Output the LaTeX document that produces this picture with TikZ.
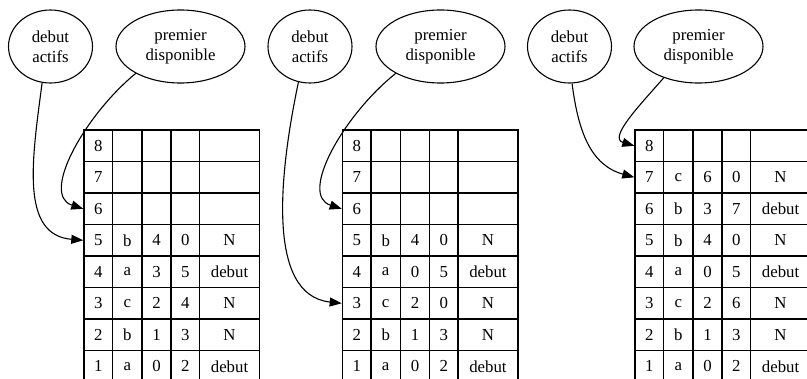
\documentclass[tikz,border=0pt]{standalone}
\usepackage{fontspec}
\setmainfont{Liberation Serif}
\newfontfamily\graphfont{Liberation Serif}
\usetikzlibrary{shapes.geometric,arrows.meta}

\tikzset{
  txt/.style={font=\graphfont\fontsize{16.8}{20}\selectfont},
  label ellipse/.style={ellipse, draw, line width=1.1pt, inner sep=0pt,
    align=center, minimum height=73pt, txt},
  cell/.style={draw, line width=1.5pt, anchor=north west,
    minimum height=31.5pt, inner sep=0pt, txt},
  ptr/.style={line width=1.1pt, -{Triangle[length=12pt,width=9pt]}},
}

% one row of a table: #1 table name, #2 left x, #3 row number,
% #4 letter, #5 previous, #6 next, #7 marker
\newcommand\cellrow[7]{%
  \pgfmathsetmacro\rowtop{129.3+(8-#3)*31.5}%
  \node[cell, minimum width=28.5pt] (#1-#3)   at (#2,\rowtop)       {#3};%
  \node[cell, minimum width=29.5pt] (#1-#3-l) at (#2+28.5,\rowtop)  {#4};%
  \node[cell, minimum width=29pt]   (#1-#3-p) at (#2+58,\rowtop)    {#5};%
  \node[cell, minimum width=28.5pt] (#1-#3-s) at (#2+87,\rowtop)    {#6};%
  \node[cell, minimum width=60pt]   (#1-#3-m) at (#2+115.5,\rowtop) {#7};%
}

\begin{document}
\begin{tikzpicture}[x=1pt,y=-1pt]
\useasboundingbox (0,0) rectangle (807,379);
\clip (0,0) rectangle (807,379);

% pointer nodes
\node[label ellipse, minimum width=84pt]  (da1) at (50.5,46.5)  {debut\\actifs};
\node[label ellipse, minimum width=129pt] (pd1) at (180.5,46.5) {premier\\disponible};
\node[label ellipse, minimum width=84pt]  (da2) at (310,46.5)   {debut\\actifs};
\node[label ellipse, minimum width=129pt] (pd2) at (440.5,46.5) {premier\\disponible};
\node[label ellipse, minimum width=84pt]  (da3) at (569.5,46.5) {debut\\actifs};
\node[label ellipse, minimum width=129pt] (pd3) at (698.5,46.5) {premier\\disponible};

% first state
\cellrow{t1}{83.3}{8}{}{}{}{}
\cellrow{t1}{83.3}{7}{}{}{}{}
\cellrow{t1}{83.3}{6}{}{}{}{}
\cellrow{t1}{83.3}{5}{b}{4}{0}{N}
\cellrow{t1}{83.3}{4}{a}{3}{5}{debut}
\cellrow{t1}{83.3}{3}{c}{2}{4}{N}
\cellrow{t1}{83.3}{2}{b}{1}{3}{N}
\cellrow{t1}{83.3}{1}{a}{0}{2}{debut}

% second state
\cellrow{t2}{341.7}{8}{}{}{}{}
\cellrow{t2}{341.7}{7}{}{}{}{}
\cellrow{t2}{341.7}{6}{}{}{}{}
\cellrow{t2}{341.7}{5}{b}{4}{0}{N}
\cellrow{t2}{341.7}{4}{a}{0}{5}{debut}
\cellrow{t2}{341.7}{3}{c}{2}{0}{N}
\cellrow{t2}{341.7}{2}{b}{1}{3}{N}
\cellrow{t2}{341.7}{1}{a}{0}{2}{debut}

% third state
\cellrow{t3}{634.3}{8}{}{}{}{}
\cellrow{t3}{634.3}{7}{c}{6}{0}{N}
\cellrow{t3}{634.3}{6}{b}{3}{7}{debut}
\cellrow{t3}{634.3}{5}{b}{4}{0}{N}
\cellrow{t3}{634.3}{4}{a}{0}{5}{debut}
\cellrow{t3}{634.3}{3}{c}{2}{6}{N}
\cellrow{t3}{634.3}{2}{b}{1}{3}{N}
\cellrow{t3}{634.3}{1}{a}{0}{2}{debut}

% pointers into the tables
\draw[ptr] (da1.257) .. controls (32,160) and (20,235) .. (t1-5.west);
\draw[ptr] (pd1.211) .. controls (85,115) and (40,195) .. (t1-6.west);
\draw[ptr] (da2.252) .. controls (280,170) and (265,295) .. (t2-3.west);
\draw[ptr] (pd2.211) .. controls (343.5,115) and (298.5,195) .. (t2-6.west);
\draw[ptr] (da3.274) .. controls (578,130) and (590,165) .. (t3-7.west);
\draw[ptr] (pd3.222) .. controls (640,105) and (608,138) .. (t3-8.west);
\end{tikzpicture}
\end{document}
